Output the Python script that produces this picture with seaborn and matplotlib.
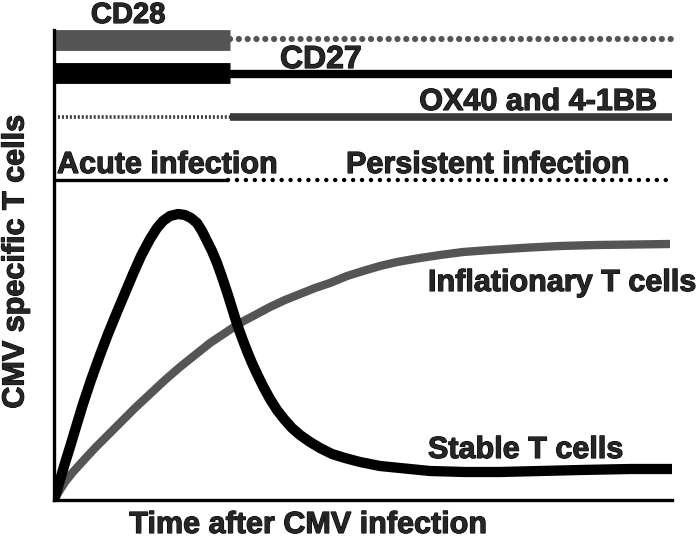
import matplotlib
matplotlib.use("Agg")
import matplotlib.pyplot as plt
import matplotlib.patheffects as pe
import pandas as pd
import seaborn as sns

# time after infection and pool size, both in arbitrary units
stable_time = [0, 6, 11, 16, 22, 29, 37, 46, 54, 63, 71, 79, 87, 96, 103,
               109, 116, 124, 131, 137, 143, 148, 153, 158, 163, 168, 173,
               178, 183, 188, 193, 198, 204, 210, 216, 223, 230, 238, 246,
               256, 266, 278, 291, 306, 326, 346, 376, 411, 446, 486, 526,
               576, 618]
stable_size = [0, 20, 37, 53, 73, 96, 120, 145, 166, 188, 207, 226, 244, 261,
               272, 279, 284, 286, 285, 282, 277, 269, 259, 249, 237, 223,
               208, 192, 176, 162, 149, 137, 124, 112, 101, 90, 81, 72, 65,
               58, 52, 46, 42, 38, 34, 32, 29, 28, 28, 29, 30, 31, 31]

inflationary_time = [0, 6, 11, 19, 29, 41, 54, 66, 81, 96, 111, 126, 141,
                     156, 171, 186, 201, 216, 231, 246, 261, 276, 293, 309,
                     326, 343, 366, 386, 409, 436, 476, 506, 543, 581, 616]
inflationary_size = [0, 10, 18, 28, 39, 52, 65, 77, 92, 106, 120, 133, 145,
                     157, 167, 177, 185, 193, 200, 206, 212, 217, 224, 229,
                     234, 238, 242, 245, 248, 250, 252.5, 254, 255, 255.5, 256]

# acute phase ends here, persistent phase runs to the end of the axis
acute_end = 176
time_end = 618

marker_labels = ['CD28', 'CD27', 'OX40 and 4-1BB']
phase_labels = ['Acute infection', 'Persistent infection']
curve_labels = ['Inflationary T cells', 'Stable T cells']

sns.set_style('white')
plt.rcParams['font.family'] = ['Liberation Sans', 'DejaVu Sans']
plt.rcParams['font.weight'] = 'bold'

fig = plt.figure(figsize=(7, 5.46), dpi=100)
ax = fig.add_axes([54 / 700, 46 / 546, 618 / 700, 470 / 546])

stable = pd.DataFrame({'time': stable_time, 'size': stable_size})
infl = pd.DataFrame({'time': inflationary_time, 'size': inflationary_size})
sns.lineplot(data=infl, x='time', y='size', color='#555555', lw=6,
             sort=False, solid_capstyle='butt', solid_joinstyle='round', ax=ax)
sns.lineplot(data=stable, x='time', y='size', color='black', lw=7.4,
             sort=False, solid_capstyle='butt', solid_joinstyle='round', ax=ax)

acute = [0, acute_end]
persistent = [acute_end, time_end]
gray = '#555555'
dark = '#3a3a3a'

# CD28 row
ax.plot(acute, [460.3, 460.3], color=gray, lw=15, solid_capstyle='butt',
        clip_on=False)
ax.plot(persistent, [461, 461], color=gray, lw=4.5, ls=(0, (0.01, 1.4)),
        dash_capstyle='round', clip_on=False)
# CD27 row
ax.plot(acute, [427, 427], color='black', lw=15, solid_capstyle='butt')
ax.plot(persistent, [425.8, 425.8], color='black', lw=6,
        solid_capstyle='butt')
# OX40 / 4-1BB row
ax.plot(acute, [383, 383], color=dark, lw=2.6, ls=(0, (0.55, 0.55)),
        solid_capstyle='butt')
ax.plot(persistent, [383, 383], color=dark, lw=5.5, solid_capstyle='butt')
# infection phase row
ax.plot([0, 174], [320, 320], color='black', lw=2.4, solid_capstyle='butt')
ax.plot([174, time_end], [320, 320], color='black', lw=3.2,
        ls=(0, (0.01, 2.0)), dash_capstyle='round')

fs = 22
thick = [pe.withStroke(linewidth=0.8, foreground='black')]
bold = dict(fontsize=fs, fontweight='bold', path_effects=thick)
ax.text(74, 477, marker_labels[0], ha='center', va='baseline',
        fontsize=21, fontweight='bold', path_effects=thick)
ax.text(226, 432, marker_labels[1], ha='left', va='baseline',
        fontsize=23, fontweight='bold', path_effects=thick)
ax.text(603, 390, marker_labels[2], ha='right', va='baseline', **bold)
ax.text(3, 327, phase_labels[0], ha='left', va='baseline', **bold)
ax.text(292, 327, phase_labels[1], ha='left', va='baseline', **bold)
ax.text(374, 209, curve_labels[0], ha='left', va='baseline', **bold)
ax.text(374, 42, curve_labels[1], ha='left', va='baseline', **bold)

fig.text(308 / 700, 1 - 533 / 546, 'Time after CMV infection', ha='center',
         va='baseline', **bold)
fig.text(23.5 / 700, 1 - 262 / 546, 'CMV specific T cells', rotation=90,
         rotation_mode='anchor', ha='center', va='baseline', **bold)

ax.set_xlim(0, time_end)
ax.set_ylim(0, 470)
ax.set_xticks([])
ax.set_yticks([])
ax.set_xlabel('')
ax.set_ylabel('')
for side in ['top', 'right']:
    ax.spines[side].set_visible(False)
for side in ['left', 'bottom']:
    ax.spines[side].set_color('black')
    ax.spines[side].set_linewidth(2.4)

fig.savefig('out.png', dpi=100)
